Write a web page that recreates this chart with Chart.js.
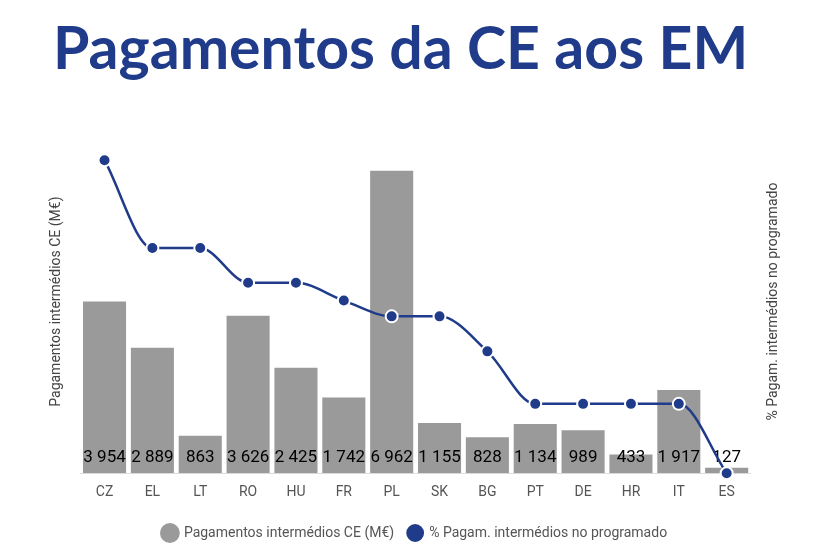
<!DOCTYPE html>
<html>
<head>
<meta charset="utf-8">
<script src="https://cdn.jsdelivr.net/npm/chart.js@4.4.1/dist/chart.umd.min.js"></script>
<style>
  html, body { margin: 0; padding: 0; background: #fff; }
  #wrap { position: relative; width: 838px; height: 552px; }
  h1 {
    position: absolute; left: 53px; top: 11px; margin: 0;
    font-family: Lato, sans-serif; font-weight: 700; font-size: 59px;
    line-height: normal; color: #1f3b8a; white-space: nowrap;
  }
  canvas { position: absolute; left: 0; top: 0; }
</style>
</head>
<body>
<div id="wrap">
  <h1>Pagamentos da CE aos EM</h1>
  <canvas id="chart" width="838" height="552"></canvas>
</div>
<script>
const countries = ["CZ", "EL", "LT", "RO", "HU", "FR", "PL", "SK", "BG", "PT", "DE", "HR", "IT", "ES"];
const payments = [3954, 2889, 863, 3626, 2425, 1742, 6962, 1155, 828, 1134, 989, 433, 1917, 127];
const pctProgramado = [91.2, 65.6, 65.6, 55.5, 55.5, 50.3, 45.7, 45.7, 35.5, 20.2, 20.2, 20.2, 20.2, 0];

const navy = "#1f3b8a";
const grey = "#9a9a9a";
const rightTitle = "% Pagam. intermédios no programado";

function fmt(v) {
  return String(v).replace(/\B(?=(\d{3})+(?!\d))/g, " ");
}

// value labels at the foot of each bar, drawn before the line
const barLabels = {
  id: "barLabels",
  afterDatasetDraw(chart, args) {
    if (args.index !== 0) return;
    const ctx = chart.ctx;
    ctx.save();
    ctx.font = "17px Roboto";
    ctx.fillStyle = "#000";
    ctx.textAlign = "center";
    ctx.textBaseline = "middle";
    args.meta.data.forEach((bar, i) => {
      ctx.fillText(fmt(payments[i]), bar.x, bar.base - 15);
    });
    ctx.restore();
  }
};

// right axis title reads bottom-to-top, like the left one
const rightAxisTitle = {
  id: "rightAxisTitle",
  afterDraw(chart) {
    const s = chart.scales.y1;
    const ctx = chart.ctx;
    ctx.save();
    ctx.translate(s.right - 12.6 - 8.4, (chart.chartArea.top + chart.chartArea.bottom) / 2);
    ctx.rotate(-Math.PI / 2);
    ctx.font = "14px Roboto";
    ctx.fillStyle = "#444";
    ctx.textAlign = "center";
    ctx.textBaseline = "middle";
    ctx.fillText(rightTitle, 0, 0);
    ctx.restore();
  }
};

new Chart(document.getElementById("chart"), {
  type: "bar",
  data: {
    labels: countries,
    datasets: [
      {
        type: "bar",
        label: "Pagamentos intermédios CE (M€)",
        data: payments,
        backgroundColor: grey,
        yAxisID: "y",
        order: 1,
        barPercentage: 0.9,
        categoryPercentage: 1.0
      },
      {
        type: "line",
        label: rightTitle,
        data: pctProgramado,
        borderColor: navy,
        backgroundColor: navy,
        borderWidth: 2.5,
        pointRadius: 6,
        pointHoverRadius: 6,
        pointBorderColor: "#fff",
        pointBorderWidth: 2,
        cubicInterpolationMode: "monotone",
        yAxisID: "y1",
        order: 0,
        clip: false
      }
    ]
  },
  options: {
    responsive: false,
    animation: false,
    layout: { padding: { top: 130, left: 36, right: 44, bottom: 2 } },
    plugins: {
      legend: {
        position: "bottom",
        labels: {
          usePointStyle: true,
          pointStyle: "circle",
          boxWidth: 14,
          boxHeight: 14,
          padding: 14,
          color: "#555",
          font: { family: "Roboto", size: 14 },
          sort: (a, b) => a.datasetIndex - b.datasetIndex
        }
      },
      tooltip: { enabled: false }
    },
    scales: {
      x: {
        grid: { display: false, drawTicks: false },
        border: { display: true, color: "#ddd" },
        ticks: { color: "#555", font: { family: "Roboto", size: 14 }, padding: 11 }
      },
      y: {
        position: "left",
        min: 0,
        max: 7900,
        grid: { display: false },
        border: { display: false },
        ticks: { display: false },
        title: {
          display: true,
          text: "Pagamentos intermédios CE (M€)",
          color: "#444",
          font: { family: "Roboto", size: 14 },
          padding: { top: 12.3, bottom: 7.5 }
        }
      },
      y1: {
        position: "right",
        min: 0,
        max: 100,
        grid: { display: false },
        border: { display: false },
        ticks: { display: false },
        title: {
          display: true,
          text: rightTitle,
          color: "rgba(0,0,0,0)",
          font: { family: "Roboto", size: 14 },
          padding: { top: 12.6, bottom: 6 }
        }
      }
    }
  },
  plugins: [barLabels, rightAxisTitle]
});
</script>
</body>
</html>
